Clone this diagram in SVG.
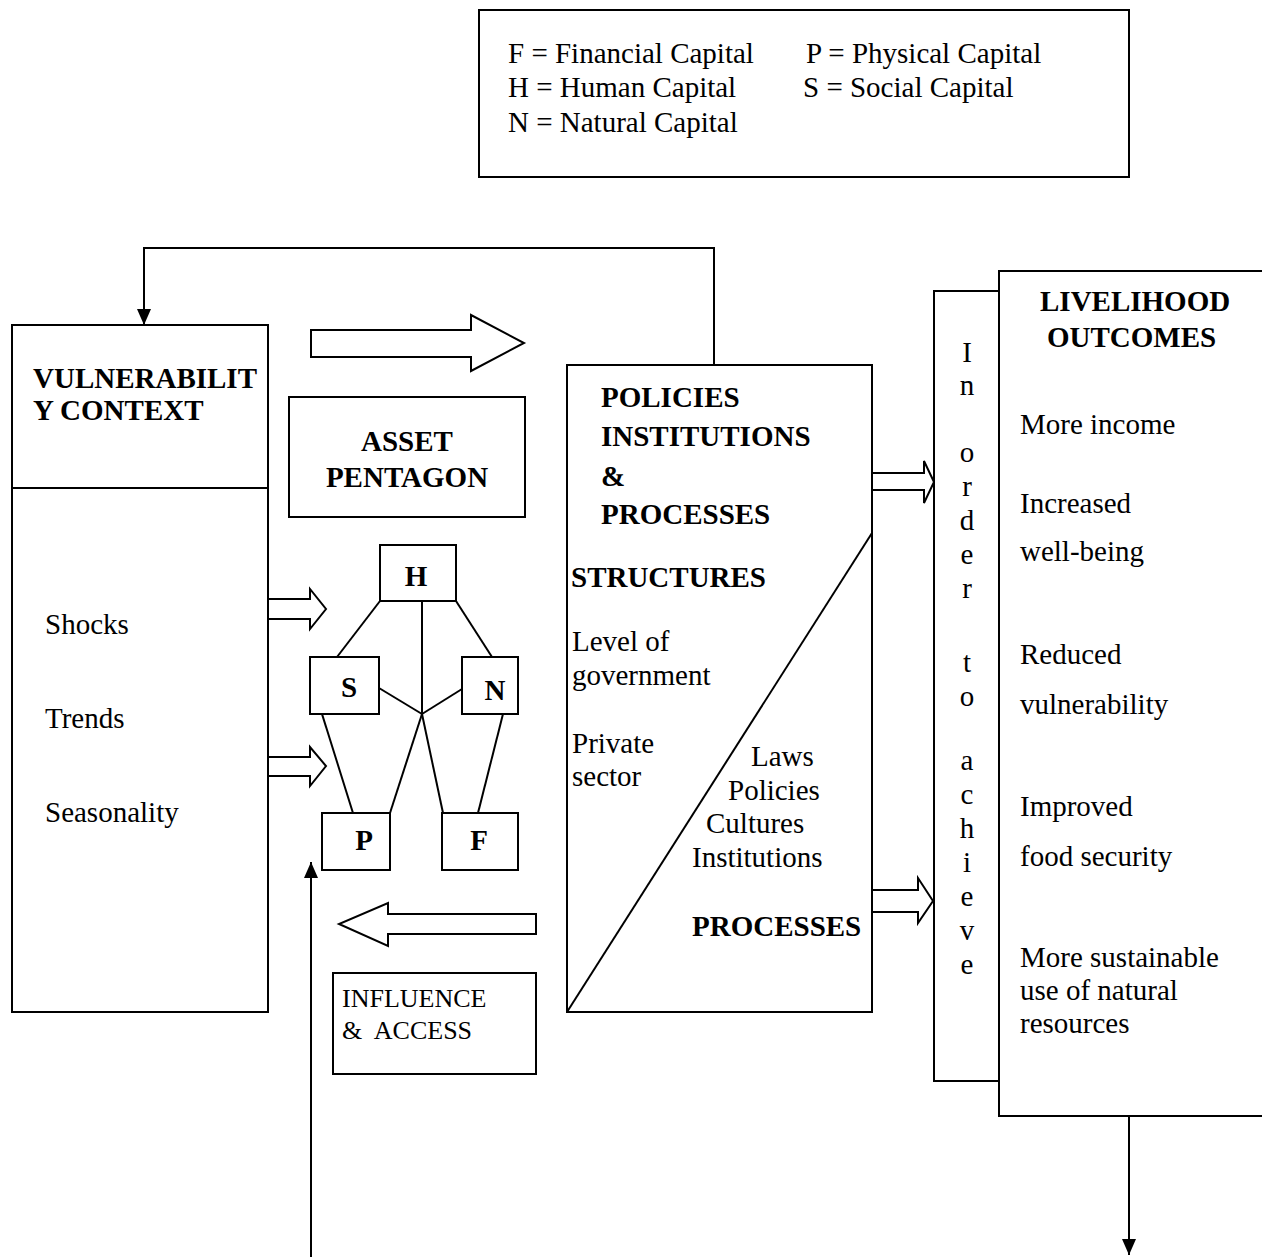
<svg xmlns="http://www.w3.org/2000/svg" width="1262" height="1257" viewBox="0 0 1262 1257">
<defs>
<marker id="ah" viewBox="0 0 16 14" refX="16" refY="7" markerWidth="16" markerHeight="14" markerUnits="userSpaceOnUse" orient="auto">
<path d="M0,0 L16,7 L0,14 Z" fill="#000"/>
</marker>
</defs>
<style>
.box{fill:#fff;stroke:#000;stroke-width:2}
.ln{fill:none;stroke:#000;stroke-width:2}
.hol{fill:#fff;stroke:#000;stroke-width:2;stroke-linejoin:miter}
.t{font-family:"Liberation Serif","Times New Roman",serif;font-size:29px;fill:#000}
.b{font-family:"Liberation Serif","Times New Roman",serif;font-size:29px;font-weight:bold;fill:#000}
.s{font-family:"Liberation Serif","Times New Roman",serif;font-size:26px;fill:#000}
.c{font-family:"Liberation Serif","Times New Roman",serif;font-size:29px;fill:#000;text-anchor:middle}
</style>
<rect width="1262" height="1257" fill="#fff"/>

<g id="legend">
<rect class="box" x="479" y="10" width="650" height="167"/>
<text class="t" x="508" y="63">F = Financial Capital</text>
<text class="t" x="806" y="63">P = Physical Capital</text>
<text class="t" x="508" y="97">H = Human Capital</text>
<text class="t" x="803" y="97">S = Social Capital</text>
<text class="t" x="508" y="132">N = Natural Capital</text>
</g>

<g id="vulnerability">
<rect class="box" x="12" y="325" width="256" height="687"/>
<line class="ln" x1="12" y1="488" x2="268" y2="488"/>
<text class="b" x="33" y="388">VULNERABILIT</text>
<text class="b" x="33" y="420">Y CONTEXT</text>
<text class="t" x="45" y="634">Shocks</text>
<text class="t" x="45" y="728">Trends</text>
<text class="t" x="45" y="822">Seasonality</text>
</g>

<g id="asset-pentagon-label">
<rect class="box" x="289" y="397" width="236" height="120"/>
<text class="b" x="407" y="451" text-anchor="middle">ASSET</text>
<text class="b" x="407" y="487" text-anchor="middle">PENTAGON</text>
</g>

<g id="pentagon-lines">
<line class="ln" x1="380" y1="601" x2="337" y2="657"/>
<line class="ln" x1="456" y1="601" x2="492" y2="657"/>
<line class="ln" x1="422" y1="601" x2="422" y2="714"/>
<line class="ln" x1="379" y1="688" x2="422" y2="714"/>
<line class="ln" x1="462" y1="689" x2="422" y2="714"/>
<line class="ln" x1="422" y1="714" x2="390" y2="813"/>
<line class="ln" x1="422" y1="714" x2="443" y2="813"/>
<line class="ln" x1="322" y1="714" x2="353" y2="813"/>
<line class="ln" x1="503" y1="714" x2="478" y2="813"/>
</g>

<g id="node-H">
<rect class="box" x="380" y="545" width="76" height="56"/>
<text class="b" x="416" y="586" text-anchor="middle">H</text>
</g>
<g id="node-S">
<rect class="box" x="310" y="657" width="69" height="57"/>
<text class="b" x="349" y="697" text-anchor="middle">S</text>
</g>
<g id="node-N">
<rect class="box" x="462" y="657" width="56" height="57"/>
<text class="b" x="495" y="700" text-anchor="middle">N</text>
</g>
<g id="node-P">
<rect class="box" x="322" y="813" width="68" height="57"/>
<text class="b" x="364" y="850" text-anchor="middle">P</text>
</g>
<g id="node-F">
<rect class="box" x="442" y="813" width="76" height="57"/>
<text class="b" x="479" y="850" text-anchor="middle">F</text>
</g>

<g id="policies">
<rect class="box" x="567" y="365" width="305" height="647"/>
<line class="ln" x1="567" y1="1012" x2="872" y2="533"/>
<text class="b" x="601" y="407">POLICIES</text>
<text class="b" x="601" y="446">INSTITUTIONS</text>
<text class="b" x="601" y="486">&amp;</text>
<text class="b" x="601" y="524">PROCESSES</text>
<text class="b" x="571" y="587">STRUCTURES</text>
<text class="t" x="572" y="651">Level of</text>
<text class="t" x="572" y="685">government</text>
<text class="t" x="572" y="753">Private</text>
<text class="t" x="572" y="786">sector</text>
<text class="t" x="751" y="766">Laws</text>
<text class="t" x="728" y="800">Policies</text>
<text class="t" x="706" y="833">Cultures</text>
<text class="t" x="692" y="867">Institutions</text>
<text class="b" x="692" y="936">PROCESSES</text>
</g>

<g id="in-order-to-achieve">
<rect class="box" x="934" y="291" width="65" height="790"/>
<text class="c" x="967" y="362">I</text>
<text class="c" x="967" y="395">n</text>
<text class="c" x="967" y="462">o</text>
<text class="c" x="967" y="496">r</text>
<text class="c" x="967" y="530">d</text>
<text class="c" x="967" y="564">e</text>
<text class="c" x="967" y="598">r</text>
<text class="c" x="967" y="672">t</text>
<text class="c" x="967" y="706">o</text>
<text class="c" x="967" y="770">a</text>
<text class="c" x="967" y="804">c</text>
<text class="c" x="967" y="838">h</text>
<text class="c" x="967" y="872">i</text>
<text class="c" x="967" y="906">e</text>
<text class="c" x="967" y="940">v</text>
<text class="c" x="967" y="974">e</text>
</g>

<g id="livelihood-outcomes">
<rect class="box" x="999" y="271" width="280" height="845"/>
<text class="b" x="1040" y="311">LIVELIHOOD</text>
<text class="b" x="1047" y="347">OUTCOMES</text>
<text class="t" x="1020" y="434">More income</text>
<text class="t" x="1020" y="513">Increased</text>
<text class="t" x="1020" y="561">well-being</text>
<text class="t" x="1020" y="664">Reduced</text>
<text class="t" x="1020" y="714">vulnerability</text>
<text class="t" x="1020" y="816">Improved</text>
<text class="t" x="1020" y="866">food security</text>
<text class="t" x="1020" y="967">More sustainable</text>
<text class="t" x="1020" y="1000">use of natural</text>
<text class="t" x="1020" y="1033">resources</text>
</g>

<g id="influence-access">
<rect class="box" x="333" y="973" width="203" height="101"/>
<text class="s" x="342" y="1007">INFLUENCE</text>
<text class="s" x="342" y="1039" xml:space="preserve">&amp;  ACCESS</text>
</g>

<g id="connectors">
<path class="ln" d="M714,365 V248 H144 V325" marker-end="url(#ah)"/>
<line class="ln" x1="311" y1="1257" x2="311" y2="862" marker-end="url(#ah)"/>
<line class="ln" x1="1129" y1="1116" x2="1129" y2="1255" marker-end="url(#ah)"/>
<polygon class="hol" points="311,330 471,330 471,315 524,343 471,371 471,357 311,357"/>
<polygon class="hol" points="268,599 310,599 310,589 326,609 310,629 310,619 268,619"/>
<polygon class="hol" points="268,757 310,757 310,747 326,766 310,786 310,776 268,776"/>
<polygon class="hol" points="536,914 388,914 388,903 339,924 388,946 388,934 536,934"/>
<polygon class="hol" points="872,473 924,473 924,461 934,482 924,503 924,490 872,490"/>
<polygon class="hol" points="872,890 918,890 918,878 933,901 918,923 918,912 872,912"/>
</g>
</svg>
